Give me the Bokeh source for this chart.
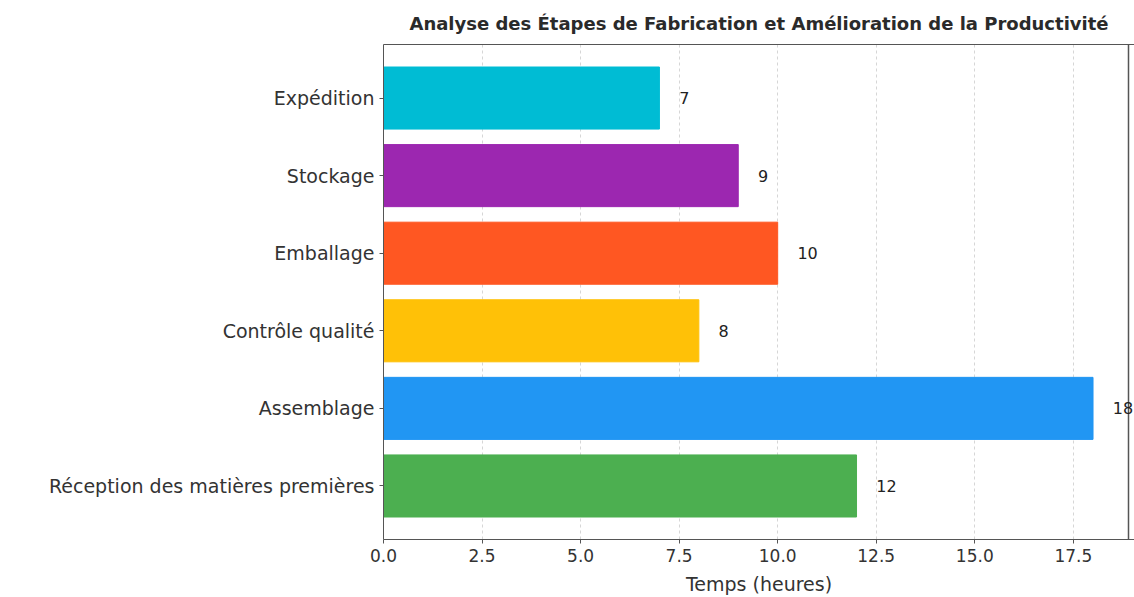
from bokeh.plotting import figure
from bokeh.models import (ColumnDataSource, FactorRange, Range1d, FixedTicker, LabelSet,
                          NumeralTickFormatter, Span, LinearAxis)
from bokeh.embed import file_html
from bokeh.resources import INLINE
from bokeh.core.properties import value

etapes = ["Réception des matières premières", "Assemblage", "Contrôle qualité",
          "Emballage", "Stockage", "Expédition"]
temps = [12, 18, 8, 10, 9, 7]
couleurs = ["#4CAF50", "#2196F3", "#FFC107", "#FF5722", "#9C27B0", "#00BCD4"]
x_ticks = [0.0, 2.5, 5.0, 7.5, 10.0, 12.5, 15.0, 17.5]

FONT = "DejaVu Sans"
PAD = 0.19
FRAME_W, FRAME_H = 745, 495
x_end = max(temps) * 1.05          # matplotlib-like 5% margin
px_per_unit = FRAME_W / x_end
extra_px = 6                       # room so the last value label is not clipped

src = ColumnDataSource(dict(etape=etapes, temps=temps, couleur=couleurs,
                            lx=[t + 0.5 for t in temps], lab=[str(t) for t in temps]))

yr = FactorRange(factors=etapes, range_padding=PAD, range_padding_units="absolute")
p = figure(y_range=yr, x_range=Range1d(0, x_end + extra_px / px_per_unit),
           frame_width=FRAME_W + extra_px, frame_height=FRAME_H,
           min_border_left=383, min_border_right=0, min_border_top=44, min_border_bottom=58,
           output_backend="svg", toolbar_location=None,
           title="Analyse des Étapes de Fabrication et Amélioration de la Productivité")

p.hbar(y="etape", right="temps", left=0, height=0.8, color="couleur", source=src)
labels = LabelSet(x="lx", y="etape", text="lab", source=src, text_baseline="middle",
                  text_font=value(FONT), text_font_size=value("16px"),
                  text_color=value("#222222"), level="overlay")
p.add_layout(labels)

# right spine at the end of the axes box
p.add_layout(Span(location=x_end, dimension="height", line_color="#555555", line_width=1.5))
# top spine
top_axis = LinearAxis(axis_line_color="#555555", major_tick_line_color=None,
                      minor_tick_line_color=None, major_label_text_font_size="0px",
                      major_label_text_color=None)
p.add_layout(top_axis, "above")

p.title.text_font = FONT
p.title.text_font_size = "18px"
p.title.text_font_style = "bold"
p.title.text_color = "#2a2a2a"
p.title.align = "center"

p.xaxis.ticker = FixedTicker(ticks=x_ticks)
p.below[0].formatter = NumeralTickFormatter(format="0.0")
p.below[0].axis_label = "Temps (heures)"
for ax in (p.below[0], p.yaxis[0]):
    ax.major_label_text_font = FONT
    ax.major_label_text_color = "#333333"
    ax.axis_line_color = "#555555"
    ax.major_tick_line_color = "#555555"
    ax.major_tick_out = 4
    ax.major_tick_in = 0
    ax.minor_tick_line_color = None
bx = p.below[0]
bx.major_label_text_font_size = "17px"
p.yaxis.major_label_text_font_size = "19px"
bx.axis_label_text_font = FONT
bx.axis_label_text_font_size = "19px"
bx.axis_label_text_font_style = "normal"
bx.axis_label_text_color = "#333333"
bx.axis_label_standoff = 8

p.ygrid.grid_line_color = None
p.xgrid.grid_line_color = "#cccccc"
p.xgrid.grid_line_dash = "3 3"
p.xgrid.grid_line_alpha = 0.8
p.outline_line_color = None
p.background_fill_color = "white"
p.border_fill_color = "white"

open("out.html", "w").write(file_html(p, INLINE))
